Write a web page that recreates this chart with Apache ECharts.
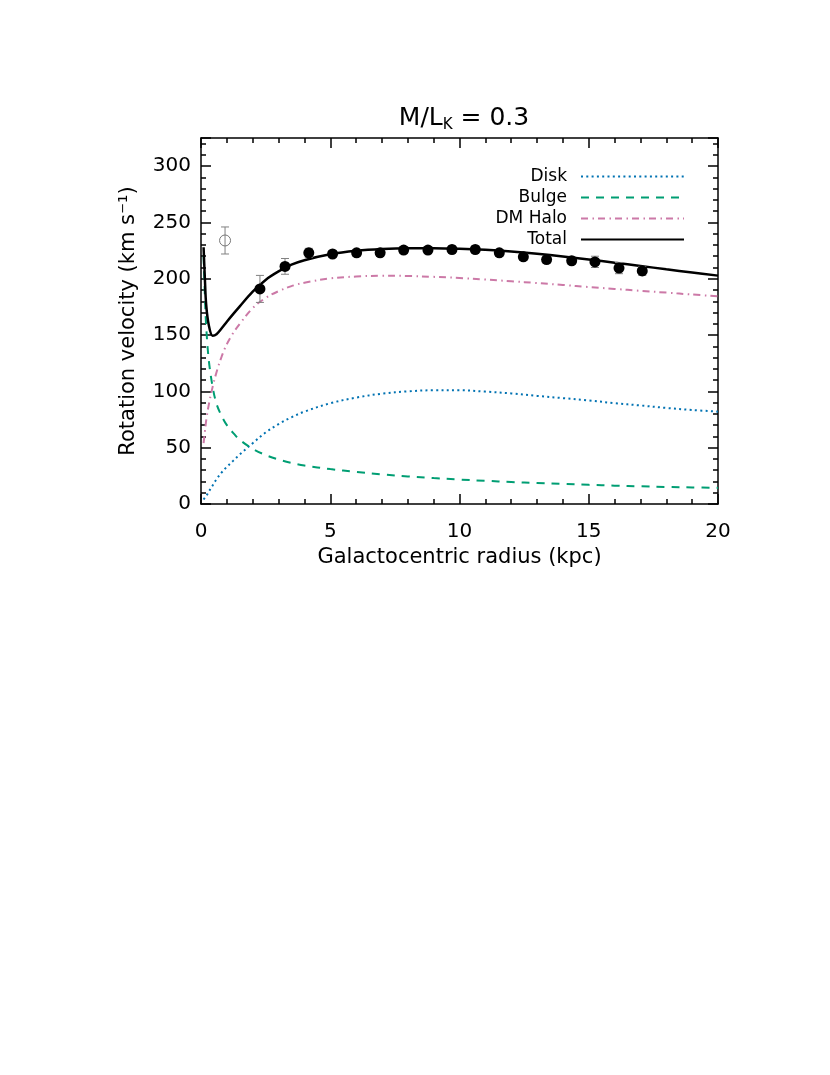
<!DOCTYPE html>
<html>
<head>
<meta charset="utf-8">
<title>Rotation curve</title>
<script src="https://cdn.jsdelivr.net/npm/echarts@6/dist/echarts.min.js"></script>
<style>
  html, body { margin: 0; padding: 0; background: #fff; }
  #chart { width: 830px; height: 1075px; }
</style>
</head>
<body>
<div id="chart"></div>
<script>
// model curves (kpc, km/s)
var radius = [0.1, 0.15, 0.2, 0.3, 0.45, 0.6, 0.8, 1.0, 1.25, 1.5, 2, 2.5, 3, 3.5, 4, 5, 6, 7, 8, 9, 10, 11, 12, 13, 14, 15, 16, 17, 18, 19, 20];
var diskV  = [4, 5.5, 7, 11, 16.5, 22, 28, 33, 38.5, 44, 54, 63.5, 71, 77, 82, 89.5, 94.5, 98, 100, 101, 101, 99.8, 98.2, 96, 94, 92, 89.5, 87.5, 85.3, 83.5, 82];
var bulgeV = [220, 185, 158, 128, 104, 89, 78, 70, 63, 57, 49, 43.5, 39.5, 36.5, 34.2, 31, 28.5, 26.3, 24.5, 23, 21.7, 20.6, 19.5, 18.6, 17.8, 17, 16.3, 15.7, 15.1, 14.7, 14.3];
var haloV  = [54, 64, 74, 88, 104, 117, 131, 142, 152, 160, 174, 183, 189, 193.5, 196.5, 200.3, 202, 202.7, 202.5, 201.7, 200.7, 199.3, 197.8, 196.2, 194.5, 192.7, 191, 189.3, 187.7, 186, 184.5];
var totalV = [228, 200, 177, 159, 149.5, 150.8, 156, 161.8, 168.8, 175.5, 188.5, 199, 206.5, 212.5, 216.5, 221.7, 224.8, 226.5, 227.2, 227.2, 226.7, 225.7, 224.2, 222.2, 219.8, 217.2, 214.3, 211.4, 208.4, 205.6, 202.8];

// observed points with errors
var obsR   = [2.28, 3.25, 4.17, 5.09, 6.02, 6.93, 7.84, 8.78, 9.71, 10.61, 11.54, 12.47, 13.37, 14.34, 15.24, 16.17, 17.07];
var obsV   = [191, 211, 223, 222, 223, 223, 225.5, 225.5, 226, 226, 223, 219.5, 217, 216, 215, 209.5, 207];
var obsErr = [12, 7, 4, 3, 3, 3, 3, 3, 3, 3, 3, 3, 3, 3, 5, 5, 4];
// open point (not used in fit)
var innerR   = [0.93];
var innerV   = [234];
var innerErr = [12];

var xTicks = [0, 5, 10, 15, 20];
var yTicks = [0, 50, 100, 150, 200, 250, 300];

var FONT = 'DejaVu Sans';

function pairs(xs, ys) {
    return xs.map(function (x, i) { return [x, ys[i]]; });
}
function triples(xs, ys, es) {
    return xs.map(function (x, i) { return [x, ys[i], es[i]]; });
}

// error bar drawn through the axis scales
function errorBar(params, api) {
    var x = api.value(0), y = api.value(1), e = api.value(2);
    var lo = api.coord([x, y - e]);
    var hi = api.coord([x, y + e]);
    var w = 4;
    var st = { stroke: '#808080', lineWidth: 1 };
    return {
        type: 'group',
        children: [
            { type: 'line', shape: { x1: lo[0], y1: lo[1], x2: hi[0], y2: hi[1] }, style: st },
            { type: 'line', shape: { x1: lo[0] - w, y1: lo[1], x2: lo[0] + w, y2: lo[1] }, style: st },
            { type: 'line', shape: { x1: hi[0] - w, y1: hi[1], x2: hi[0] + w, y2: hi[1] }, style: st }
        ]
    };
}

// onZero off, otherwise the mirror axes get pulled to the zero line
var axisLine = { show: true, onZero: false, lineStyle: { color: '#000', width: 1.5 } };
var tickStyle = { color: '#000', width: 1.5 };

var chart = echarts.init(document.getElementById('chart'), null, { renderer: 'canvas' });

var option = {
    backgroundColor: '#fff',
    animation: false,
    textStyle: { fontFamily: FONT },
    title: {
        text: 'M/L{sub|K} = 0.3',
        left: 459,
        textAlign: 'center',
        top: 99,
        textStyle: {
            fontFamily: FONT,
            fontSize: 25,
            fontWeight: 'normal',
            color: '#000',
            rich: {
                sub: { fontFamily: FONT, fontSize: 15, color: '#000', padding: [14, 0, 0, 0] }
            }
        }
    },
    legend: {
        data: ['Disk', 'Bulge', 'DM Halo', 'Total'],
        orient: 'vertical',
        align: 'right',
        right: 145,
        top: 168,
        padding: 0,
        itemWidth: 103,
        itemHeight: 14,
        itemGap: 4,
        selectedMode: false,
        itemStyle: { opacity: 0 },
        textStyle: { fontFamily: FONT, fontSize: 17, color: '#000', padding: [0, 9, 0, 0] }
    },
    grid: { left: 201, top: 138, width: 517, height: 366, containLabel: false },
    xAxis: [{
        type: 'value',
        min: xTicks[0],
        max: xTicks[xTicks.length - 1],
        interval: 5,
        name: 'Galactocentric radius (kpc)',
        nameLocation: 'middle',
        nameGap: 43,
        nameTextStyle: { fontFamily: FONT, fontSize: 21, color: '#000' },
        axisLine: axisLine,
        axisTick: { inside: true, length: 10, lineStyle: tickStyle },
        minorTick: { show: true, splitNumber: 5, length: 5, lineStyle: tickStyle },
        splitLine: { show: false },
        axisLabel: { fontFamily: FONT, fontSize: 20, color: '#000', margin: 18 }
    }, {
        type: 'value',
        position: 'top',
        min: xTicks[0],
        max: xTicks[xTicks.length - 1],
        interval: 5,
        axisLine: axisLine,
        axisTick: { inside: true, length: 10, lineStyle: tickStyle },
        minorTick: { show: true, splitNumber: 5, length: 5, lineStyle: tickStyle },
        splitLine: { show: false },
        axisLabel: { show: false }
    }],
    yAxis: [{
        type: 'value',
        min: 0,
        max: 325,
        interval: 50,
        name: 'Rotation velocity (km s\u207B\u00B9)',
        nameLocation: 'middle',
        nameRotate: 90,
        nameGap: 62,
        nameTextStyle: { fontFamily: FONT, fontSize: 21, color: '#000' },
        axisLine: axisLine,
        axisTick: { inside: true, length: 10, lineStyle: tickStyle },
        minorTick: { show: true, splitNumber: 5, length: 5, lineStyle: tickStyle },
        splitLine: { show: false },
        axisLabel: {
            fontFamily: FONT, fontSize: 20, color: '#000', margin: 10,
            formatter: function (v) { return yTicks.indexOf(v) >= 0 ? String(v) : ''; }
        }
    }, {
        type: 'value',
        position: 'right',
        min: 0,
        max: 325,
        interval: 50,
        axisLine: axisLine,
        axisTick: { inside: true, length: 10, lineStyle: tickStyle },
        minorTick: { show: true, splitNumber: 5, length: 5, lineStyle: tickStyle },
        splitLine: { show: false },
        axisLabel: { show: false }
    }],
    series: [
        {
            name: 'Disk', type: 'line', data: pairs(radius, diskV),
            symbol: 'none', smooth: 0.35,
            lineStyle: { color: '#0072B2', width: 2, type: [2, 3.3] },
            itemStyle: { color: '#0072B2' }, z: 3
        },
        {
            name: 'Bulge', type: 'line', data: pairs(radius, bulgeV),
            symbol: 'none', smooth: 0.35,
            lineStyle: { color: '#009E73', width: 2, type: [8, 7] },
            itemStyle: { color: '#009E73' }, z: 3
        },
        {
            name: 'DM Halo', type: 'line', data: pairs(radius, haloV),
            symbol: 'none', smooth: 0.35,
            lineStyle: { color: '#CC79A7', width: 2, type: [7, 4.5, 1.5, 4] },
            itemStyle: { color: '#CC79A7' }, z: 3
        },
        {
            name: 'Total', type: 'line', data: pairs(radius, totalV),
            symbol: 'none', smooth: 0.35,
            lineStyle: { color: '#000', width: 2.5 },
            itemStyle: { color: '#000' }, z: 4
        },
        {
            name: 'obsErr', type: 'custom', renderItem: errorBar,
            data: triples(obsR, obsV, obsErr), encode: { x: 0, y: 1 }, z: 5
        },
        {
            name: 'innerErr', type: 'custom', renderItem: errorBar,
            data: triples(innerR, innerV, innerErr), encode: { x: 0, y: 1 }, z: 5
        },
        {
            name: 'obs', type: 'scatter', data: pairs(obsR, obsV),
            symbol: 'circle', symbolSize: 11,
            itemStyle: { color: '#000', opacity: 1 }, z: 6
        },
        {
            name: 'inner', type: 'scatter', data: pairs(innerR, innerV),
            symbol: 'circle', symbolSize: 11,
            itemStyle: { color: 'rgba(0,0,0,0)', borderColor: '#777', borderWidth: 1, opacity: 1 }, z: 6
        }
    ]
};

chart.setOption(option);
</script>
</body>
</html>
